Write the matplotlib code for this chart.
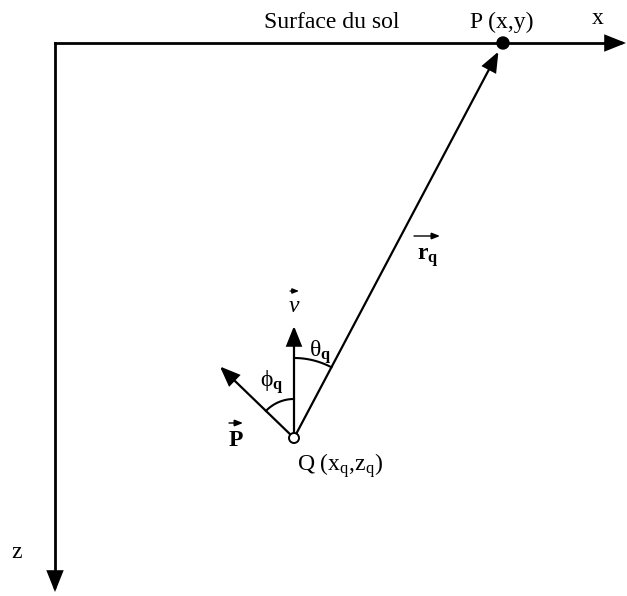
import matplotlib.pyplot as plt
import numpy as np
from matplotlib.patches import FancyArrowPatch, Circle

plt.rcParams["font.family"] = ["Liberation Serif", "DejaVu Serif"]
plt.rcParams["mathtext.fontset"] = "custom"
plt.rcParams["mathtext.rm"] = "Liberation Serif"
plt.rcParams["mathtext.it"] = "Liberation Serif:italic"
plt.rcParams["mathtext.bf"] = "Liberation Serif:bold"

# diagram geometry (pixel coordinates, y pointing down)
origin = (55, 43)
x_axis_end = 626
z_axis_end = 592
point_P = (503, 43)
point_Q = (294, 438)
v_length = 112
p_vec_length = 103
p_vec_angle_deg = 46          # angle between P vector and vertical
theta_radius = 80
phi_radius = 39

labels = {
    "surface": "Surface du sol",
    "P": "P (x,y)",
    "x": "x",
    "z": "z",
    "Q": r"Q (x$_\mathrm{q}$,z$_\mathrm{q}$)",
}

fig = plt.figure(figsize=(6.27, 5.96), dpi=100)
ax = fig.add_axes([0, 0, 1, 1])
ax.set_xlim(0, 627)
ax.set_ylim(596, 0)
ax.axis("off")


def arrow(start, end, lw=1.6, shrink_b=0, ms=12, hl=1.0, hw=0.4):
    ax.add_patch(FancyArrowPatch(
        start, end,
        arrowstyle=f"-|>,head_length={hl},head_width={hw}",
        mutation_scale=ms, lw=lw, color="black",
        shrinkA=0, shrinkB=shrink_b, joinstyle="miter",
    ))


# axes
ax.plot([origin[0], x_axis_end - 8], [origin[1], origin[1]], color="black", lw=2.0)
ax.plot([origin[0], origin[0]], [origin[1], z_axis_end - 8], color="black", lw=2.0)
arrow((x_axis_end - 20, origin[1]), (x_axis_end, origin[1]), lw=2.0)
arrow((origin[0], z_axis_end - 20), (origin[0], z_axis_end), lw=2.0)

# r_q vector from Q to P
arrow(point_Q, point_P, lw=1.6, shrink_b=7)

# v vector (vertical)
v_end = (point_Q[0], point_Q[1] - v_length)
arrow(point_Q, v_end, lw=1.6)

# P vector
a = np.radians(p_vec_angle_deg)
p_end = (point_Q[0] - p_vec_length * np.sin(a), point_Q[1] - p_vec_length * np.cos(a))
arrow(point_Q, p_end, lw=1.6)

# angle arcs (angles measured from vertical, positive towards +x)
r_dx, r_dy = point_P[0] - point_Q[0], point_Q[1] - point_P[1]
theta_deg = np.degrees(np.arctan2(r_dx, r_dy))

t = np.radians(np.linspace(0, theta_deg, 50))
ax.plot(point_Q[0] + theta_radius * np.sin(t), point_Q[1] - theta_radius * np.cos(t),
        color="black", lw=1.5)
t = np.radians(np.linspace(0, -p_vec_angle_deg, 50))
ax.plot(point_Q[0] + phi_radius * np.sin(t), point_Q[1] - phi_radius * np.cos(t),
        color="black", lw=1.5)

# points
ax.add_patch(Circle(point_P, 6, facecolor="black", edgecolor="black", zorder=5))
ax.add_patch(Circle(point_Q, 5, facecolor="white", edgecolor="black", lw=1.4, zorder=5))

# text
fs = 17
ax.text(332, 22, labels["surface"], fontsize=fs, ha="center", va="center")
ax.text(502, 22, labels["P"], fontsize=fs, ha="center", va="center")
ax.text(598, 19, labels["x"], fontsize=fs, ha="center", va="center")
ax.text(17, 553, labels["z"], fontsize=fs, ha="center", va="center")
ax.text(340, 466, labels["Q"], fontsize=fs, ha="center", va="center")
ax.text(320, 352, r"θ$_\mathbf{q}$", fontsize=fs, ha="center", va="center")
ax.text(272, 382, r"ϕ$_\mathbf{q}$", fontsize=fs, ha="center", va="center")

# vector labels with small arrows above
ax.text(428, 258, r"$\mathbf{r}_\mathbf{q}$", fontsize=fs, ha="center", va="center")
arrow((414, 236), (440, 236), lw=1.0, ms=5, hl=1.0, hw=0.4)
ax.text(294, 306, r"$v$", fontsize=fs, ha="center", va="center")
arrow((290, 291), (299, 291), lw=0.9, ms=4, hl=1.0, hw=0.4)
ax.text(236, 440, r"$\mathbf{P}$", fontsize=fs, ha="center", va="center")
arrow((229, 423), (243, 423), lw=1.0, ms=5, hl=1.0, hw=0.4)

fig.savefig("out.png", dpi=100)
